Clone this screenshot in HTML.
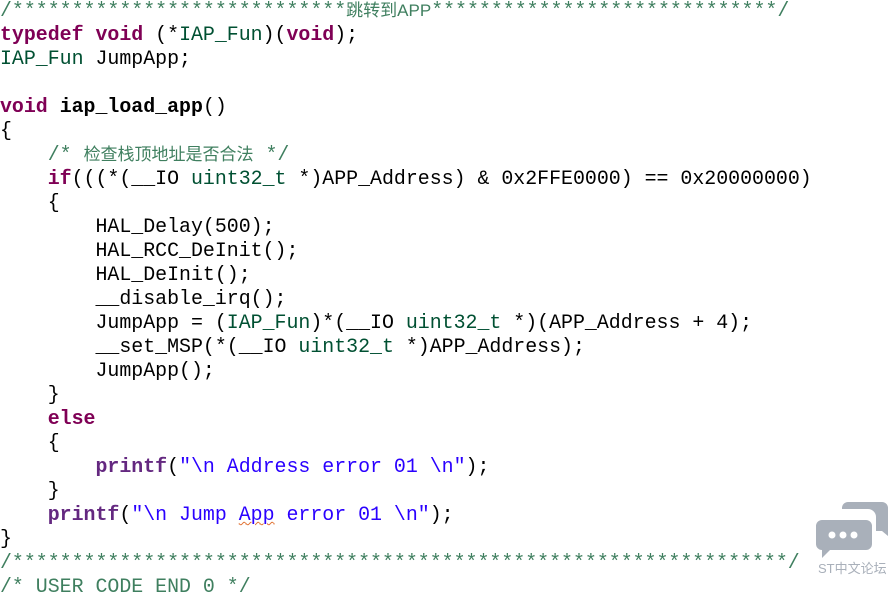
<!DOCTYPE html>
<html><head><meta charset="utf-8"><style>
body{margin:0;width:896px;height:583px;overflow:hidden;background:#fff;position:relative}
pre{position:absolute;left:0;top:-1px;margin:0;font-family:"Liberation Mono","Noto Sans CJK SC",monospace;font-size:19.9px;line-height:24px;color:#000}
.k{color:#7f0055;font-weight:bold}
.t{color:#005032}
.c{color:#3f7f5f}
.s{color:#2a00ff}
.f{color:#642880;font-weight:bold}
.b{font-weight:bold}
.cj{font-family:"Liberation Sans","Noto Sans CJK SC",sans-serif;font-size:17px}
.sq{text-decoration:underline wavy #e07030;text-decoration-thickness:1px}
</style></head><body>
<pre><span class="c">/****************************<span class="cj">跳转到APP</span>*****************************/</span>
<span class="k">typedef</span> <span class="k">void</span> (*<span class="t">IAP_Fun</span>)(<span class="k">void</span>);
<span class="t">IAP_Fun</span> JumpApp;

<span class="k">void</span> <span class="b">iap_load_app</span>()
{
    <span class="c">/* <span class="cj">检查栈顶地址是否合法</span> */</span>
    <span class="k">if</span>(((*(__IO <span class="t">uint32_t</span> *)APP_Address) &amp; 0x2FFE0000) == 0x20000000)
    {
        HAL_Delay(500);
        HAL_RCC_DeInit();
        HAL_DeInit();
        __disable_irq();
        JumpApp = (<span class="t">IAP_Fun</span>)*(__IO <span class="t">uint32_t</span> *)(APP_Address + 4);
        __set_MSP(*(__IO <span class="t">uint32_t</span> *)APP_Address);
        JumpApp();
    }
    <span class="k">else</span>
    {
        <span class="f">printf</span>(<span class="s">"\n Address error 01 \n"</span>);
    }
    <span class="f">printf</span>(<span class="s">"\n Jump <span class="sq">App</span> error 01 \n"</span>);
}
<span class="c">/*****************************************************************/</span>
<span class="c">/* USER CODE END 0 */</span></pre>
<svg style="position:absolute;left:814px;top:498px" width="76" height="62" viewBox="0 0 76 62">
<path d="M28 4 h40 a6 6 0 0 1 6 6 v28 l-6 -5 h-6 v-14 a8 8 0 0 0 -8 -8 h-26 v-1 a6 6 0 0 1 6 -6z" fill="#a9b0ba"/>
<path d="M8 22 h44 a6 6 0 0 1 6 6 v18 a6 6 0 0 1 -6 6 h-36 l-8 8 v-8 a6 6 0 0 1 -6 -6 v-18 a6 6 0 0 1 6 -6z" fill="#a9b0ba"/>
<circle cx="18" cy="37" r="3.5" fill="#fff"/><circle cx="29" cy="37" r="3.5" fill="#fff"/><circle cx="40" cy="37" r="3.5" fill="#fff"/>
</svg>
<div style="position:absolute;left:818px;top:558px;font-family:'Liberation Sans','Noto Sans CJK SC',sans-serif;font-size:13px;color:#a9b0ba">ST中文论坛</div>
</body></html>
